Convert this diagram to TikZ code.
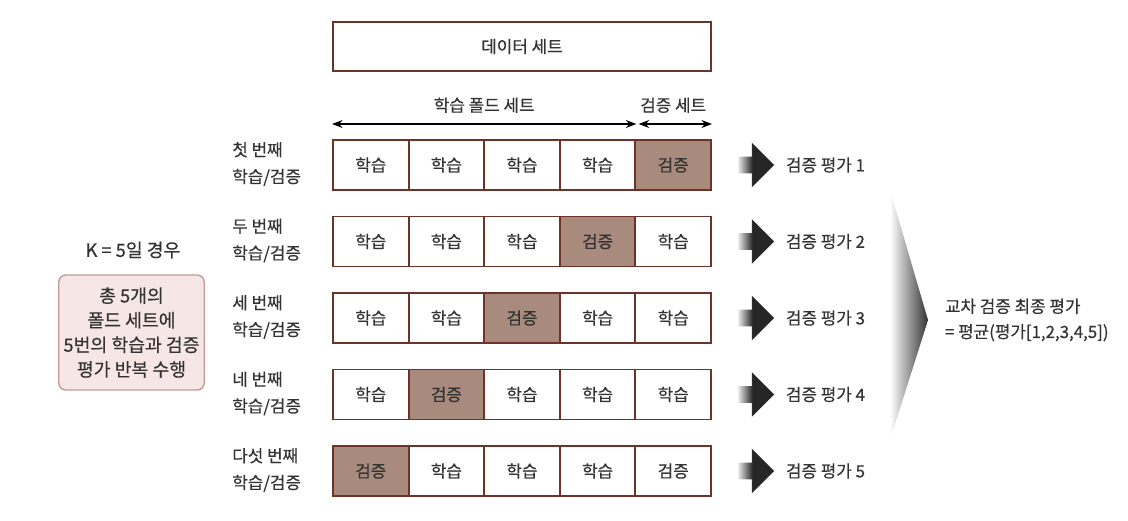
\documentclass[tikz,border=0pt]{standalone}
\usepackage{fontspec}
\setmainfont{Noto Sans CJK KR}[FakeBold=0.4]
\usetikzlibrary{arrows.meta,shapes.arrows}
\definecolor{foldline}{HTML}{6E3328}
\definecolor{valfill}{HTML}{A88B7D}
\definecolor{notefill}{HTML}{F6E7E6}
\definecolor{noteline}{HTML}{C29C92}
\definecolor{ink}{HTML}{333333}
\pgfdeclarehorizontalshading{fatarrow}{100bp}{color(0bp)=(black!8); color(25bp)=(black!8); color(45bp)=(black!85); color(100bp)=(black!85)}
\tikzset{
  every node/.style={font=\fontsize{12pt}{19pt}\selectfont,text=ink},
  cell/.style={draw=foldline,line width=1.4pt,fill=white,minimum width=1.89cm,minimum height=1.25cm,inner sep=0pt},
  valcell/.style={cell,fill=valfill},
  rowlabel/.style={anchor=west,align=left,inner sep=0pt},
  fat/.style={single arrow,shading=fatarrow,draw=none,minimum height=0.9cm,inner xsep=0pt,inner ysep=0.2cm,single arrow head extend=0.35cm},
}
\begin{document}
\begin{tikzpicture}[x=0.025cm,y=-0.025cm]
\useasboundingbox (0,0) rectangle (1128,520);
\node[cell,minimum width=9.45cm,minimum height=1.225cm] (data) at (522,46.5) {데이터 세트};
\foreach \r/\ord/\v in {1/첫/5,2/두/4,3/세/3,4/네/2,5/다섯/1}{
  \pgfmathsetmacro\ry{165+76.5*(\r-1)}
  \node[rowlabel] (l\r) at (232,\ry-1) {\ord{} 번째\\학습/검증};
  \foreach \c in {1,...,5}{
    \ifnum\c=\v \def\sty{valcell}\else\def\sty{cell}\fi
    \node[\sty] (f\r\c) at (333+75.6*\c-37.8,\ry) {\ifnum\c=\v 검증\else\ifnum\r\c=55 검증\else 학습\fi\fi};
  }
  \node[fat] (a\r) at (752,\ry) {};
  \node[anchor=west] (e\r) at (781,\ry) {검증 평가 \r};
}
\draw[Stealth-Stealth,line width=1pt,black] ([yshift=0.375cm]f11.north west) -- node[yshift=0.47cm] (tl) {학습 폴드 세트} ([yshift=0.375cm]f14.north east);
\draw[Stealth-Stealth,line width=1pt,black,shorten <=3pt] ([yshift=0.375cm]f15.north west) -- node[yshift=0.47cm] (vl) {검증 세트} ([yshift=0.375cm]f15.north east);
\node[font=\fontsize{13pt}{17.5pt}\selectfont] (k) at (133,250) {K = 5일 경우};
\node[draw=noteline,fill=notefill,rounded corners=5pt,line width=1pt,minimum width=3.575cm,minimum height=2.875cm,align=center,font=\fontsize{13pt}{17.5pt}\selectfont] (note) at (131.5,332.5) {총 5개의\\폴드 세트에\\5번의 학습과 검증\\평가 반복 수행};
\shade[left color=white,right color=black!80] (890,190) coordinate (t1) -- (928,320) coordinate (tip) -- (890,440) coordinate (t2) -- cycle;
\node[anchor=west,align=left,font=\fontsize{12pt}{18pt}\selectfont] (final) at (940,320) {교차 검증 최종 평가\\= 평균(평가[1,2,3,4,5])};
\end{tikzpicture}
\end{document}
